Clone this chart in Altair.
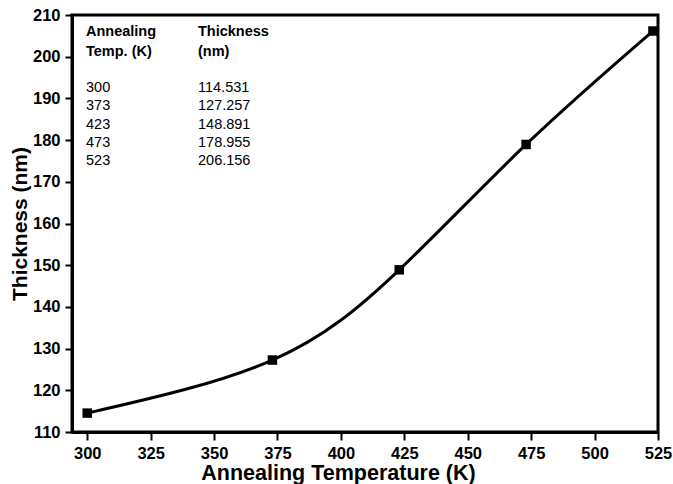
import altair as alt
import pandas as pd

# Film thickness versus annealing temperature
temps = [300, 373, 423, 473, 523]
thickness = [114.531, 127.257, 148.891, 178.955, 206.156]

# Tick positions (majors carry labels, minors in between)
x_ticks = [300 + 12.5 * i for i in range(19)]
y_ticks = [110 + 5 * i for i in range(21)]

# Inset table text
head_temp = ["Annealing", "Temp. (K)"]
head_thick = ["Thickness", "(nm)"]
col_temp = [str(t) for t in temps]
col_thick = [f"{v:.3f}" for v in thickness]

df = pd.DataFrame({"temp": temps, "thickness": thickness})

FONT = "Liberation Sans"
BOLD = {"condition": {"test": "true", "value": "bold"}, "value": "bold"}

x_enc = alt.X(
    "temp:Q",
    scale=alt.Scale(domain=[294, 525], nice=False, zero=False),
    axis=alt.Axis(
        values=x_ticks,
        title="Annealing Temperature (K)",
        labelExpr="datum.value % 25 == 0 ? datum.label : ''",
        tickSize={"condition": {"test": "datum.value % 25 == 0", "value": 8}, "value": 4},
        labelPadding=5,
        labelFont=FONT,
        labelFontWeight=BOLD,
        labelFontSize=16.5,
        titleFont=FONT,
        titleFontWeight="bold",
        titleFontSize=21.5,
        titleBaseline="alphabetic",
        titleX=266,
        titleY=47,
        labelOverlap=False,
        labelFlush=False,
    ),
)
y_enc = alt.Y(
    "thickness:Q",
    scale=alt.Scale(domain=[110, 210], nice=False, zero=False),
    axis=alt.Axis(
        values=y_ticks,
        title="Thickness (nm)",
        labelExpr="datum.value % 10 == 0 ? datum.label : ''",
        tickSize={"condition": {"test": "datum.value % 10 == 0", "value": 7}, "value": 4},
        labelPadding=5,
        labelFont=FONT,
        labelFontWeight=BOLD,
        labelFontSize=16.5,
        titleFont=FONT,
        titleFontWeight="bold",
        titleFontSize=21,
        titlePadding=2,
        labelOverlap=False,
        labelFlush=False,
    ),
)

base = alt.Chart(df)
curve = base.mark_line(interpolate="natural", color="black", strokeWidth=3).encode(x=x_enc, y=y_enc)
points = base.mark_point(shape="square", filled=True, size=90, color="black", opacity=1).encode(
    x="temp:Q", y="thickness:Q"
)

one = pd.DataFrame({"k": [0]})


def block(lines, x, y, weight, size, line_height):
    return alt.Chart(one).mark_text(
        text=lines,
        align="left",
        baseline="alphabetic",
        font=FONT,
        fontSize=size,
        fontWeight=weight,
        lineHeight=line_height,
        color="black",
    ).encode(x=alt.value(x), y=alt.value(y))


table = (
    block(head_temp, 14, 21, "bold", 14.5, 20)
    + block(head_thick, 126, 21, "bold", 14.5, 20)
    + block(col_temp, 14, 77, "normal", 14.5, 18.3)
    + block(col_thick, 126, 77, "normal", 14.5, 18.3)
)

chart = (
    alt.layer(curve, points, table)
    .properties(
        width=586,
        height=417,
        autosize=alt.AutoSizeParams(type="none"),
        padding={"left": 72, "top": 15, "right": 15, "bottom": 52},
        background="white",
    )
    .configure_view(stroke="black", strokeWidth=3)
    .configure_axis(
        grid=False,
        domainColor="black",
        domainWidth=3,
        tickColor="black",
        tickWidth=2,
        labelColor="black",
        titleColor="black",
    )
)

chart.save("out.html", embed_options={"renderer": "svg", "actions": False})
